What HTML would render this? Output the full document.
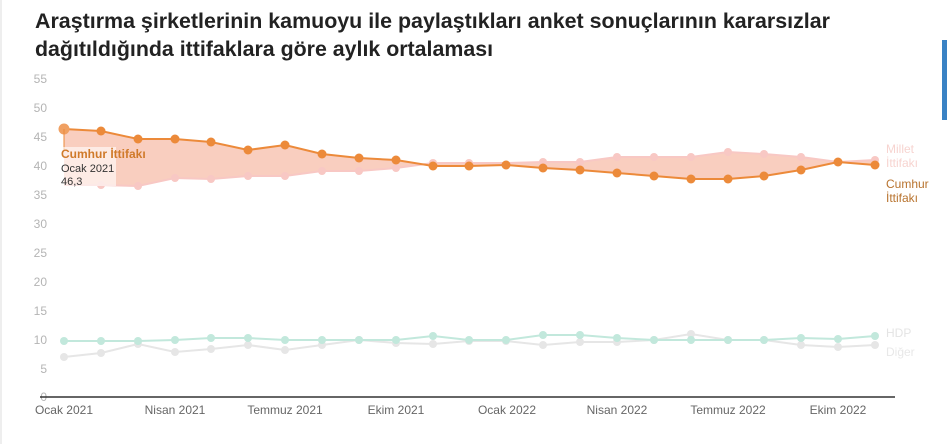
<!DOCTYPE html>
<html><head><meta charset="utf-8"><style>
html,body{margin:0;padding:0;background:#fff;}
svg{display:block;font-family:"Liberation Sans",sans-serif;}
</style></head><body>
<svg width="947" height="444" viewBox="0 0 947 444" xmlns="http://www.w3.org/2000/svg">
<rect width="947" height="444" fill="#fff"/>
<rect x="0" y="0" width="2" height="444" fill="#eee"/>
<rect x="942" y="40" width="5" height="80" fill="#3a82c4"/>
<text x="35" y="28" font-size="21" font-weight="bold" fill="#222" textLength="795" lengthAdjust="spacingAndGlyphs">Araştırma şirketlerinin kamuoyu ile paylaştıkları anket sonuçlarının kararsızlar</text>
<text x="35" y="56" font-size="21" font-weight="bold" fill="#222" textLength="458" lengthAdjust="spacingAndGlyphs">dağıtıldığında ittifaklara göre aylık ortalaması</text>
<g font-size="12" fill="#b4b4b4" text-anchor="end">
<text x="47" y="83">55</text><text x="47" y="112">50</text><text x="47" y="141">45</text><text x="47" y="170">40</text><text x="47" y="199">35</text><text x="47" y="228">30</text><text x="47" y="257">25</text><text x="47" y="286">20</text><text x="47" y="315">15</text><text x="47" y="344">10</text><text x="47" y="373">5</text><text x="47" y="401">0</text>
</g>
<line x1="40" y1="397" x2="895" y2="397" stroke="#333" stroke-width="1.5"/>
<g font-size="12" fill="#666" text-anchor="middle">
<text x="64" y="414">Ocak 2021</text><text x="175" y="414">Nisan 2021</text><text x="285" y="414">Temmuz 2021</text><text x="396" y="414">Ekim 2021</text><text x="507" y="414">Ocak 2022</text><text x="617" y="414">Nisan 2022</text><text x="728" y="414">Temmuz 2022</text><text x="838" y="414">Ekim 2022</text>
</g>
<polygon fill="#f7b9a4" fill-opacity="0.7" points="64,129 101,131 138,139 175,139 211,142 248,150 285,145 322,154 359,158 396,160 433,166 469,166 506,165 543,168 580,170 617,173 654,176 691,179 728,179 764,176 801,170 838,162 875,165 875,160 838,162 801,157 764,154 728,152 691,157 654,157 617,157 580,162 543,162 506,163 469,163 433,163 396,168 359,171 322,171 285,176 248,176 211,179 175,178 138,186 101,185 64,185"/>
<polyline fill="none" stroke="#f8c8c4" stroke-width="2" points="64,185 101,185 138,186 175,178 211,179 248,176 285,176 322,171 359,171 396,168 433,163 469,163 506,163 543,162 580,162 617,157 654,157 691,157 728,152 764,154 801,157 838,162 875,160"/>
<g fill="#f8c8c4">
<circle cx="101" cy="185" r="4"/><circle cx="138" cy="186" r="4"/><circle cx="175" cy="178" r="4"/><circle cx="211" cy="179" r="4"/><circle cx="248" cy="176" r="4"/><circle cx="285" cy="176" r="4"/><circle cx="322" cy="171" r="4"/><circle cx="359" cy="171" r="4"/><circle cx="396" cy="168" r="4"/><circle cx="433" cy="163" r="4"/><circle cx="469" cy="163" r="4"/><circle cx="543" cy="162" r="4"/><circle cx="580" cy="162" r="4"/><circle cx="617" cy="157" r="4"/><circle cx="654" cy="157" r="4"/><circle cx="691" cy="157" r="4"/><circle cx="728" cy="152" r="4"/><circle cx="764" cy="154" r="4"/><circle cx="801" cy="157" r="4"/><circle cx="875" cy="160" r="4"/>
</g>
<polyline fill="none" stroke="#ec8a3a" stroke-width="2" points="64,129 101,131 138,139 175,139 211,142 248,150 285,145 322,154 359,158 396,160 433,166 469,166 506,165 543,168 580,170 617,173 654,176 691,179 728,179 764,176 801,170 838,162 875,165"/>
<g fill="#ec8a3a">
<circle cx="64" cy="129" r="5.5" fill="#f0a062"/><circle cx="101" cy="131" r="4.5"/><circle cx="138" cy="139" r="4.5"/><circle cx="175" cy="139" r="4.5"/><circle cx="211" cy="142" r="4.5"/><circle cx="248" cy="150" r="4.5"/><circle cx="285" cy="145" r="4.5"/><circle cx="322" cy="154" r="4.5"/><circle cx="359" cy="158" r="4.5"/><circle cx="396" cy="160" r="4.5"/><circle cx="433" cy="166" r="4.5"/><circle cx="469" cy="166" r="4.5"/><circle cx="506" cy="165" r="4.5"/><circle cx="543" cy="168" r="4.5"/><circle cx="580" cy="170" r="4.5"/><circle cx="617" cy="173" r="4.5"/><circle cx="654" cy="176" r="4.5"/><circle cx="691" cy="179" r="4.5"/><circle cx="728" cy="179" r="4.5"/><circle cx="764" cy="176" r="4.5"/><circle cx="801" cy="170" r="4.5"/><circle cx="838" cy="162" r="4.5"/><circle cx="875" cy="165" r="4.5"/>
</g>
<line x1="64" y1="129" x2="64" y2="150" stroke="#ec8a3a" stroke-width="1"/>
<rect x="59" y="147" width="57" height="39" fill="#fff" fill-opacity="0.6"/>
<text x="61" y="158" font-size="12" font-weight="bold" fill="#d07a2a">Cumhur İttifakı</text>
<text x="61" y="172" font-size="11" fill="#333">Ocak 2021</text>
<text x="61" y="185" font-size="11" fill="#333">46,3</text>
<polyline fill="none" stroke="#e6e6e6" stroke-width="2" points="64,357 101,353 138,344 175,352 211,349 248,345 285,350 322,345 359,340 396,343 433,344 469,341 506,341 543,345 580,342 617,342 654,340 691,334 728,340 764,340 801,345 838,347 875,345"/>
<g fill="#e6e6e6">
<circle cx="64" cy="357" r="4"/><circle cx="101" cy="353" r="4"/><circle cx="138" cy="344" r="4"/><circle cx="175" cy="352" r="4"/><circle cx="211" cy="349" r="4"/><circle cx="248" cy="345" r="4"/><circle cx="285" cy="350" r="4"/><circle cx="322" cy="345" r="4"/><circle cx="359" cy="340" r="4"/><circle cx="396" cy="343" r="4"/><circle cx="433" cy="344" r="4"/><circle cx="469" cy="341" r="4"/><circle cx="506" cy="341" r="4"/><circle cx="543" cy="345" r="4"/><circle cx="580" cy="342" r="4"/><circle cx="617" cy="342" r="4"/><circle cx="654" cy="340" r="4"/><circle cx="691" cy="334" r="4"/><circle cx="728" cy="340" r="4"/><circle cx="764" cy="340" r="4"/><circle cx="801" cy="345" r="4"/><circle cx="838" cy="347" r="4"/><circle cx="875" cy="345" r="4"/>
</g>
<polyline fill="none" stroke="#c2e8dc" stroke-width="2" points="64,341 101,341 138,341 175,340 211,338 248,338 285,340 322,340 359,340 396,340 433,336 469,340 506,340 543,335 580,335 617,338 654,340 691,340 728,340 764,340 801,338 838,339 875,336"/>
<g fill="#c2e8dc">
<circle cx="64" cy="341" r="4"/><circle cx="101" cy="341" r="4"/><circle cx="138" cy="341" r="4"/><circle cx="175" cy="340" r="4"/><circle cx="211" cy="338" r="4"/><circle cx="248" cy="338" r="4"/><circle cx="285" cy="340" r="4"/><circle cx="322" cy="340" r="4"/><circle cx="359" cy="340" r="4"/><circle cx="396" cy="340" r="4"/><circle cx="433" cy="336" r="4"/><circle cx="469" cy="340" r="4"/><circle cx="506" cy="340" r="4"/><circle cx="543" cy="335" r="4"/><circle cx="580" cy="335" r="4"/><circle cx="617" cy="338" r="4"/><circle cx="654" cy="340" r="4"/><circle cx="691" cy="340" r="4"/><circle cx="728" cy="340" r="4"/><circle cx="764" cy="340" r="4"/><circle cx="801" cy="338" r="4"/><circle cx="838" cy="339" r="4"/><circle cx="875" cy="336" r="4"/>
</g>
<g font-size="12">
<text x="886" y="153" fill="#f7d4d0">Millet</text>
<text x="886" y="167" fill="#f7d4d0">İttifakı</text>
<text x="886" y="188" fill="#b8732e">Cumhur</text>
<text x="886" y="202" fill="#b8732e">İttifakı</text>
<text x="886" y="337" fill="#e4e4e4">HDP</text>
<text x="886" y="356" fill="#e8e8e8">Diğer</text>
</g>
</svg>
</body></html>
